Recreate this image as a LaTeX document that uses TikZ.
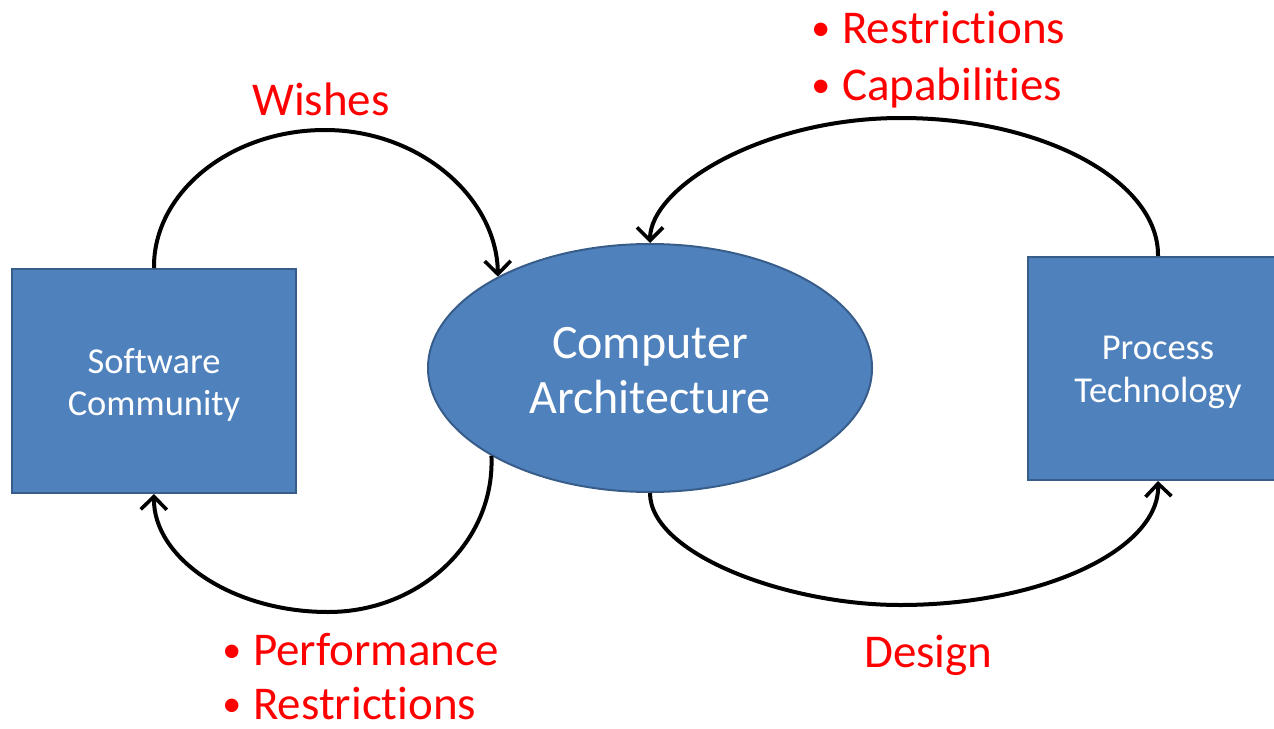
\documentclass[tikz,border=0pt]{standalone}
\usepackage{fontspec}
\setmainfont{Carlito}[Ligatures={NoCommon}]
\usetikzlibrary{shapes.geometric,arrows.meta}
\definecolor{boxblue}{HTML}{4F81BD}
\definecolor{boxedge}{HTML}{385D8A}
\definecolor{labred}{HTML}{FF0000}
\tikzset{
  bluebox/.style={draw=boxedge, fill=boxblue, line width=2pt, inner sep=0pt},
  boxtext/.style={text=white, align=center, inner sep=0pt},
  redlabel/.style={text=labred, anchor=base west, inner sep=0pt, font=\fontsize{47}{57}\selectfont},
  loopline/.style={draw=black, line width=4pt, arrows={-Straight Barb[length=13pt,width=26pt,line width=3.6pt]}},
}
\newcommand{\bul}{\llap{\raisebox{3pt}{\fontsize{38}{38}\selectfont\textbullet}\hspace{12pt}}}
\begin{document}
\begin{tikzpicture}[x=1pt,y=-1pt]
\useasboundingbox (0,0) rectangle (1274,728);
% shapes
\node[bluebox, rectangle, minimum width=284pt, minimum height=224pt] (sw) at (154,381) {};
\node[bluebox, rectangle, minimum width=260pt, minimum height=223pt] (pt) at (1158,368.5) {};
\node[bluebox, ellipse, minimum width=444pt, minimum height=248pt] (ca) at (650,368) {};
% texts in shapes
\node[boxtext, font=\fontsize{36.5}{42}\selectfont, yshift=-4pt] (swt) at (sw.center) {Software\\Community};
\node[boxtext, font=\fontsize{36.5}{43}\selectfont, yshift=-3.5pt] (ptt) at (pt.center) {Process\\Technology};
\node[boxtext, font=\fontsize{48}{55}\selectfont, yshift=-2.5pt] (cat) at (ca.center) {Computer\\Architecture};
% connectors
\draw[loopline] (sw.north) .. controls (153,193) and (230,130) .. (325,130)
            .. controls (420,130) and (497,198) .. (ca.149.5);
\draw[loopline] (ca.209.8) .. controls (495,542) and (420,612) .. (328,612)
            .. controls (232,612) and (153,558) .. (sw.south);
\draw[loopline] (pt.north) .. controls (1159,181) and (1043,118) .. (901,118)
            .. controls (763,118) and (650,187) .. (ca.north);
\draw[loopline] (ca.south) .. controls (650,554) and (787,605) .. (900,605)
            .. controls (1043,605) and (1160,549) .. (pt.south);
% labels
\node[redlabel] (wishes) at (252,115) {Wishes};
\node[redlabel] (design) at (864,667) {Design};
\node[redlabel] (tr1) at (842,43) {\bul Restrictions};
\node[redlabel] (tr2) at (842,100) {\bul Capabilities};
\node[redlabel] (bl1) at (253,665) {\bul Performance};
\node[redlabel] (bl2) at (253,719) {\bul Restrictions};
\end{tikzpicture}
\end{document}
